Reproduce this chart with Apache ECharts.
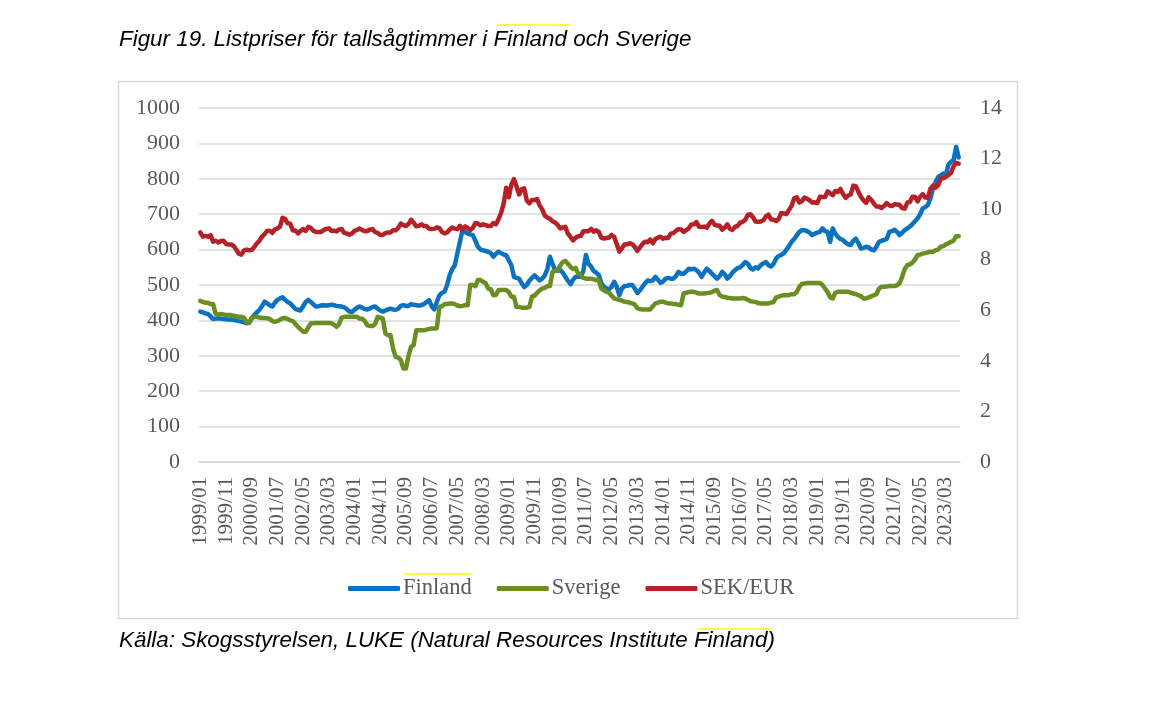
<!DOCTYPE html>
<html>
<head>
<meta charset="utf-8">
<script src="https://cdn.jsdelivr.net/npm/echarts@6/dist/echarts.min.js"></script>
<style>
html,body{margin:0;padding:0;background:#fff;}
#chart{width:1168px;height:726px;}
</style>
</head>
<body>
<div id="chart"></div>
<script>
// Monthly categories 1999/01 .. 2023/08
const startYear = 1999, endYear = 2023, endMonth = 8;
const categories = [];
for (let y = startYear; y <= endYear; y++) {
  for (let m = 1; m <= 12; m++) {
    if (y === endYear && m > endMonth) break;
    categories.push(y + '/' + (m < 10 ? '0' + m : m));
  }
}

const leftTicks = [0, 100, 200, 300, 400, 500, 600, 700, 800, 900, 1000];
const rightTicks = [0, 2, 4, 6, 8, 10, 12, 14];

const finland = [
  425,423,420,418,412,404,405,406,405,404,403,402,
  403,401,400,398,397,395,392,393,405,415,423,430,
  440,453,448,443,439,450,458,462,465,458,452,448,
  440,432,430,428,440,452,458,452,445,439,440,442,
  443,442,443,444,443,441,440,439,437,432,425,424,
  430,436,439,436,432,431,434,438,439,433,428,425,
  428,431,433,431,430,433,441,443,441,441,446,444,
  443,442,443,446,452,457,440,431,452,471,478,481,
  500,528,545,556,590,622,655,650,645,643,641,625,
  608,600,598,596,594,590,580,588,594,590,586,584,
  570,556,523,520,518,505,494,500,512,520,527,520,
  513,518,527,545,580,560,542,540,542,535,523,512,
  502,515,523,523,523,540,585,560,552,540,535,528,
  505,495,490,488,495,509,495,471,490,497,498,500,
  500,490,478,485,495,505,513,511,513,523,515,506,
  510,518,520,518,518,525,537,532,532,538,546,544,
  546,542,535,523,535,546,540,532,525,518,525,537,
  530,518,525,535,542,548,550,557,565,560,548,544,
  550,547,556,561,565,556,552,560,575,582,585,590,
  600,610,622,630,640,650,655,655,652,648,641,645,
  648,650,660,652,650,622,660,645,636,630,627,620,
  615,613,625,631,618,603,605,608,606,600,598,608,
  622,625,627,630,650,652,656,650,641,648,655,660,
  665,672,680,688,700,716,720,726,745,773,790,805,
  810,815,812,840,848,853,890,860
];

const sverige = [
  455,452,450,450,446,446,418,416,418,417,415,415,
  415,413,412,410,410,408,395,393,408,410,410,408,
  407,407,406,404,398,396,398,402,406,407,404,400,
  398,390,382,375,368,368,380,392,392,393,393,393,
  393,393,393,392,388,382,390,408,410,410,410,410,
  410,410,405,405,398,386,384,384,390,410,408,405,
  363,358,358,320,297,295,288,264,264,300,326,330,
  372,372,372,372,374,376,377,377,378,438,440,446,
  446,448,448,446,442,440,441,443,443,500,500,497,
  514,514,509,505,490,488,471,472,486,486,486,486,
  480,467,467,438,438,436,436,436,438,467,470,478,
  485,490,492,497,497,537,540,542,555,565,568,560,
  551,545,548,532,528,520,518,518,518,516,514,514,
  490,485,481,478,470,462,460,458,456,453,452,450,
  448,445,434,432,431,431,431,431,440,448,450,453,
  453,450,448,448,446,446,444,443,476,478,480,481,
  481,478,476,476,476,477,478,480,484,486,472,467,
  466,464,463,462,462,462,462,463,462,458,454,453,
  452,449,448,448,448,448,450,452,465,467,470,471,
  471,472,474,474,480,495,503,504,506,506,506,506,
  506,506,500,490,480,465,462,478,481,481,481,481,
  481,478,476,474,471,468,462,462,465,468,471,474,
  490,495,495,496,497,497,497,499,505,523,545,556,
  558,563,572,584,586,589,590,592,594,594,598,600,
  608,610,615,618,622,625,638,638
];

const sekEur = [
  9.08,8.91,8.94,8.91,8.97,8.71,8.75,8.68,8.74,8.75,8.63,8.60,
  8.60,8.54,8.39,8.24,8.20,8.37,8.40,8.37,8.39,8.50,8.65,8.75,
  8.91,9.01,9.14,9.15,9.06,9.20,9.24,9.31,9.66,9.61,9.44,9.42,
  9.16,9.16,9.04,9.14,9.21,9.14,9.30,9.26,9.14,9.10,9.10,9.10,
  9.17,9.22,9.24,9.14,9.15,9.12,9.20,9.21,9.06,9.03,8.99,9.04,
  9.14,9.18,9.23,9.17,9.13,9.14,9.19,9.21,9.09,9.06,8.98,8.98,
  9.05,9.08,9.08,9.17,9.16,9.26,9.43,9.37,9.33,9.41,9.58,9.46,
  9.32,9.34,9.40,9.33,9.33,9.23,9.21,9.22,9.28,9.25,9.10,9.04,
  9.08,9.19,9.27,9.23,9.21,9.34,9.18,9.32,9.26,9.17,9.26,9.45,
  9.43,9.36,9.40,9.37,9.33,9.33,9.45,9.40,9.60,9.85,10.22,10.85,
  10.47,10.97,11.19,10.90,10.58,10.79,10.82,10.34,10.23,10.36,10.36,10.40,
  10.15,9.99,9.74,9.67,9.62,9.52,9.47,9.38,9.24,9.28,9.30,9.03,
  8.90,8.76,8.87,8.93,8.94,9.13,9.13,9.13,9.22,9.11,9.16,9.10,
  8.87,8.84,8.86,8.88,8.98,8.90,8.61,8.32,8.45,8.60,8.61,8.65,
  8.62,8.50,8.35,8.49,8.62,8.71,8.69,8.80,8.65,8.82,8.87,8.91,
  8.83,8.87,8.86,9.03,9.05,9.14,9.21,9.20,9.10,9.17,9.24,9.39,
  9.40,9.49,9.30,9.29,9.31,9.26,9.43,9.54,9.39,9.35,9.34,9.19,
  9.27,9.40,9.22,9.18,9.30,9.34,9.47,9.50,9.58,9.78,9.80,9.68,
  9.51,9.50,9.51,9.56,9.71,9.78,9.59,9.58,9.53,9.62,9.85,9.83,
  9.80,9.97,10.13,10.43,10.47,10.26,10.31,10.46,10.41,10.35,10.26,10.27,
  10.24,10.49,10.48,10.48,10.70,10.63,10.55,10.72,10.68,10.80,10.60,10.45,
  10.54,10.58,10.93,10.91,10.69,10.48,10.35,10.25,10.47,10.37,10.22,10.10,
  10.10,10.05,10.13,10.24,10.15,10.12,10.19,10.18,10.17,10.04,10.02,10.26,
  10.28,10.49,10.48,10.31,10.49,10.59,10.46,10.45,10.81,10.93,10.85,10.95,
  11.20,11.22,11.28,11.35,11.44,11.69,11.83,11.80
];

const seriesNames = ['Finland', 'Sverige', 'SEK/EUR'];
const colors = ['#0a72c1', '#6b8e23', '#b52126'];
const titleText = 'Figur 19. Listpriser för tallsågtimmer i Finland och Sverige';
const sourceText = 'Källa: Skogsstyrelsen, LUKE (Natural Resources Institute Finland)';

const serif = '"Liberation Serif", "Times New Roman", serif';
const sans = '"Liberation Sans", Arial, sans-serif';
const labelColor = '#595959';

const chart = echarts.init(document.getElementById('chart'), null, {renderer: 'canvas'});
chart.setOption({
  animation: false,
  backgroundColor: '#fff',
  color: colors,
  grid: {left: 199, right: 208, top: 108, bottom: 264, containLabel: false},
  graphic: [
    {type: 'rect', shape: {x: 118.5, y: 81.5, width: 899, height: 537},
     style: {fill: 'none', stroke: '#d9d9d9', lineWidth: 1.5}, z: 0},
    {type: 'text', left: 119, top: 29,
     style: {text: titleText, font: 'italic 22.4px ' + sans, fill: '#000'}},
    {type: 'text', left: 119, top: 630,
     style: {text: sourceText, font: 'italic 22.4px ' + sans, fill: '#000'}},
    {type: 'line', shape: {x1: 497, y1: 25, x2: 570, y2: 25}, style: {stroke: '#ffff00', lineWidth: 1.5}},
    {type: 'line', shape: {x1: 404, y1: 574, x2: 472, y2: 574}, style: {stroke: '#ffff00', lineWidth: 1.5}},
    {type: 'line', shape: {x1: 697, y1: 629, x2: 772, y2: 629}, style: {stroke: '#ffff00', lineWidth: 1.5}}
  ],
  legend: {
    data: seriesNames,
    left: 343, top: 572,
    itemWidth: 52, itemHeight: 5, itemGap: 25,
    icon: 'roundRect',
    textStyle: {fontFamily: serif, fontSize: 22.5, color: labelColor, padding: [0, 0, 0, -2]}
  },
  xAxis: {
    type: 'category',
    data: categories,
    boundaryGap: true,
    axisLine: {show: true, lineStyle: {color: '#d9d9d9', width: 1.5}},
    axisTick: {show: false},
    axisLabel: {interval: 9, rotate: 90, margin: 15, fontFamily: serif, fontSize: 21, color: labelColor},
    splitLine: {show: false}
  },
  yAxis: [
    {type: 'value', min: 0, max: 1000, interval: 100,
     axisLine: {show: false}, axisTick: {show: false},
     axisLabel: {margin: 19, fontFamily: serif, fontSize: 22, color: labelColor,
                 formatter: function (v) { return String(v); }},
     splitLine: {lineStyle: {color: '#d9d9d9', width: 1.5}}},
    {type: 'value', min: 0, max: 14, interval: 2,
     axisLine: {show: false}, axisTick: {show: false},
     axisLabel: {margin: 20, fontFamily: serif, fontSize: 22, color: labelColor,
                 formatter: function (v) { return String(v); }},
     splitLine: {show: false}}
  ],
  series: [
    {name: seriesNames[0], type: 'line', data: finland, yAxisIndex: 0, showSymbol: false, symbol: 'none',
     lineStyle: {width: 4.5, color: colors[0], cap: 'round', join: 'round'}},
    {name: seriesNames[1], type: 'line', data: sverige, yAxisIndex: 0, showSymbol: false, symbol: 'none',
     lineStyle: {width: 4.5, color: colors[1], cap: 'round', join: 'round'}},
    {name: seriesNames[2], type: 'line', data: sekEur, yAxisIndex: 1, showSymbol: false, symbol: 'none',
     lineStyle: {width: 4.5, color: colors[2], cap: 'round', join: 'round'}}
  ]
});
</script>
</body>
</html>
